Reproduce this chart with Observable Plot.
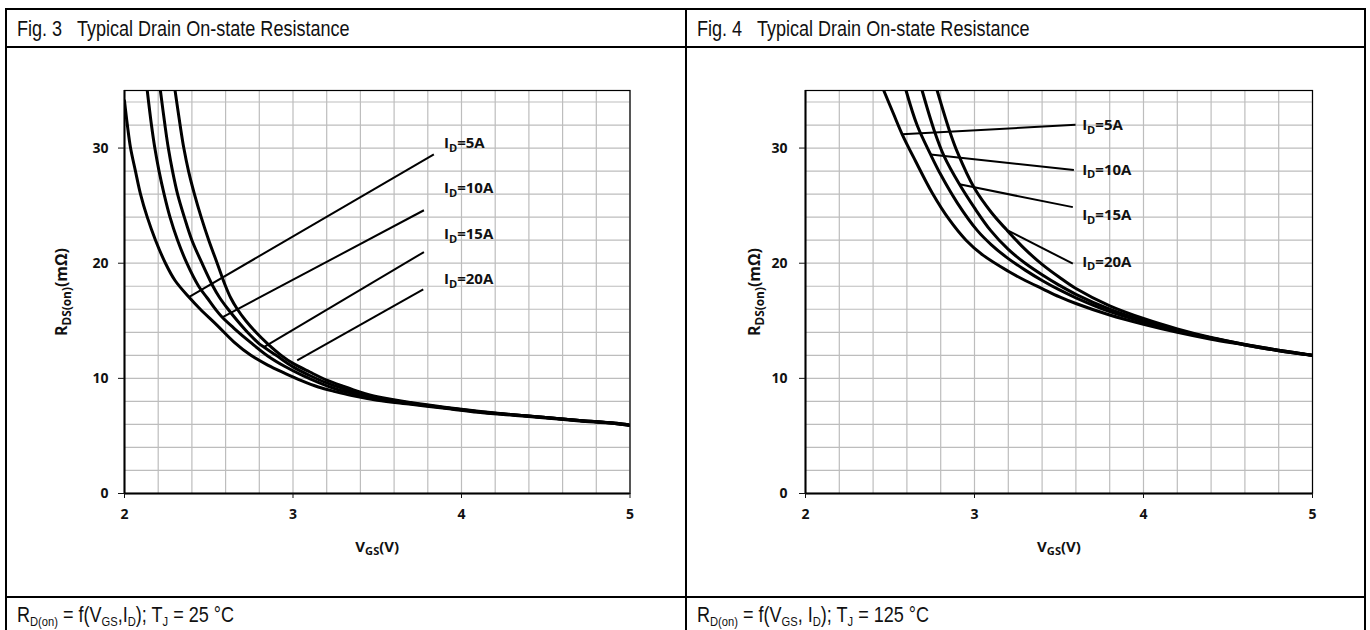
<!DOCTYPE html>
<html><head><meta charset="utf-8">
<script src="https://cdn.jsdelivr.net/npm/d3@7"></script>
<script src="https://cdn.jsdelivr.net/npm/@observablehq/plot@0.6"></script>
<style>
html,body{margin:0;padding:0;background:#fff;width:1370px;height:630px;overflow:hidden;}
#page{position:relative;width:1370px;height:630px;}
.ln{position:absolute;background:#000;}
.hd,.ft{position:absolute;font-family:"Liberation Sans",Arial,sans-serif;font-size:22px;color:#111;white-space:nowrap;line-height:1;transform:scaleX(0.82);transform-origin:0 50%;}
.ft sub{font-size:0.62em;vertical-align:-0.3em;line-height:0;}
.chart{position:absolute;}
</style></head>
<body><div id="page">
<div class="ln" style="left:5px;top:8px;width:1361px;height:2px"></div>
<div class="ln" style="left:5px;top:8px;width:2px;height:640px"></div>
<div class="ln" style="left:1364px;top:8px;width:2px;height:640px"></div>
<div class="ln" style="left:685px;top:8px;width:2px;height:640px"></div>
<div class="ln" style="left:5px;top:46px;width:1361px;height:2px"></div>
<div class="ln" style="left:5px;top:596px;width:1361px;height:2px"></div>
<div class="hd" style="left:17px;top:18px">Fig. 3<span style="display:inline-block;width:18px"></span>Typical Drain On-state Resistance</div>
<div class="hd" style="left:697px;top:18px">Fig. 4<span style="display:inline-block;width:18px"></span>Typical Drain On-state Resistance</div>
<div class="ft" style="left:17px;top:604px">R<sub>D(on)</sub> = f(V<sub>GS</sub>,I<sub>D</sub>); T<sub>J</sub> = 25 °C</div>
<div class="ft" style="left:697px;top:604px">R<sub>D(on)</sub> = f(V<sub>GS</sub>, I<sub>D</sub>); T<sub>J</sub> = 125 °C</div>
<div class="chart" id="c3" style="left:0px;top:48px"></div>
<div class="chart" id="c4" style="left:686px;top:48px"></div>
</div>
<script>
// ---------- data: Fig. 3 (TJ = 25 °C), points [VGS (V), RDS(on) (mΩ)] ----------
const fig3_5A  = [[2.0,34.1],[2.017,32],[2.036,30],[2.065,28],[2.095,26],[2.135,24],[2.184,22],[2.243,20],[2.30,18.5],[2.382,17.06],[2.45,16.0],[2.55,14.6],[2.65,13.15],[2.75,12.0],[2.85,11.15],[2.95,10.45],[3.05,9.8],[3.15,9.25],[3.25,8.85],[3.35,8.5],[3.5,8.1],[3.7,7.75],[3.9,7.4],[4.1,7.05],[4.3,6.8],[4.5,6.55],[4.7,6.3],[4.9,6.1],[5.0,5.9]];
const fig3_10A = [[2.135,35],[2.16,32],[2.18,30],[2.205,28],[2.235,26],[2.27,24],[2.315,22],[2.37,20],[2.44,18],[2.49,17],[2.54,16],[2.58,15.3],[2.65,14.35],[2.75,13.1],[2.85,11.95],[2.95,11.05],[3.05,10.3],[3.15,9.65],[3.25,9.1],[3.35,8.7],[3.5,8.2],[3.7,7.8],[3.9,7.45],[4.1,7.1],[4.3,6.85],[4.5,6.6],[4.7,6.35],[4.9,6.12],[5.0,5.95]];
const fig3_15A = [[2.213,35],[2.24,32],[2.26,30],[2.285,28],[2.315,26],[2.355,24],[2.40,22],[2.46,20],[2.525,18],[2.565,17],[2.615,16],[2.67,15],[2.73,14],[2.80,13],[2.827,12.72],[2.9,12.0],[3.0,11.0],[3.1,10.25],[3.2,9.6],[3.3,9.1],[3.4,8.65],[3.5,8.3],[3.7,7.85],[3.9,7.45],[4.1,7.1],[4.3,6.85],[4.5,6.6],[4.7,6.35],[4.9,6.12],[5.0,5.95]];
const fig3_20A = [[2.30,35],[2.33,32],[2.352,30],[2.38,28],[2.415,26],[2.455,24],[2.50,22],[2.55,20],[2.60,18],[2.63,17],[2.67,16],[2.72,15],[2.78,14],[2.85,13],[2.93,12],[3.0,11.3],[3.1,10.55],[3.2,9.85],[3.3,9.3],[3.4,8.8],[3.5,8.4],[3.7,7.9],[3.9,7.5],[4.1,7.15],[4.3,6.85],[4.5,6.6],[4.7,6.35],[4.9,6.1],[5.0,5.9]];

// ---------- data: Fig. 4 (TJ = 125 °C) ----------
const fig4_5A  = [[2.463,35],[2.52,33.0],[2.572,31.2],[2.65,28.9],[2.75,26.1],[2.85,23.8],[2.95,22.0],[3.05,20.7],[3.2,19.3],[3.3,18.5],[3.4,17.8],[3.5,17.1],[3.6,16.5],[3.8,15.5],[4.0,14.7],[4.2,14.0],[4.4,13.4],[4.6,12.9],[4.8,12.4],[5.0,12.0]];
const fig4_10A = [[2.595,35],[2.66,32.0],[2.74,29.45],[2.8,27.7],[2.9,25.2],[3.016,22.85],[3.1,21.6],[3.2,20.4],[3.3,19.4],[3.4,18.5],[3.5,17.7],[3.6,17.0],[3.8,15.8],[4.0,14.9],[4.2,14.1],[4.4,13.5],[4.6,12.9],[4.8,12.4],[5.0,12.0]];
const fig4_15A = [[2.69,35],[2.76,31.6],[2.82,29.3],[2.911,26.85],[3.0,24.8],[3.095,22.85],[3.2,21.2],[3.3,20.0],[3.4,19.0],[3.5,18.1],[3.6,17.3],[3.8,16.0],[4.0,15.0],[4.2,14.2],[4.4,13.5],[4.6,12.95],[4.8,12.45],[5.0,12.0]];
const fig4_20A = [[2.779,35],[2.85,31.6],[2.9,29.6],[3.0,26.5],[3.1,24.4],[3.19,22.9],[3.3,21.2],[3.4,19.9],[3.5,18.8],[3.6,17.8],[3.8,16.3],[4.0,15.2],[4.2,14.3],[4.4,13.55],[4.6,12.95],[4.8,12.45],[5.0,12.0]];

// ---------- labels and leader lines ----------
const seriesNames = ["ID=5A", "ID=10A", "ID=15A", "ID=20A"];
const fig3LeadV1 = [2.382, 2.58, 2.827, 3.025];
const fig3LeadR1 = [17.06, 15.3, 12.72, 11.57];
const fig3LeadV2 = [3.836, 3.777, 3.777, 3.773];
const fig3LeadR2 = [29.45, 24.6, 20.97, 17.73];
const fig3LabelV = [3.896, 3.896, 3.896, 3.896];
const fig3LabelR = [30.4, 26.5, 22.5, 18.57];

const fig4LeadV1 = [2.572, 2.74, 2.911, 3.19];
const fig4LeadR1 = [31.2, 29.45, 26.85, 22.9];
const fig4LeadV2 = [3.598, 3.588, 3.582, 3.582];
const fig4LeadR2 = [32.02, 28.1, 24.87, 19.96];
const fig4LabelV = [3.637, 3.637, 3.637, 3.637];
const fig4LabelR = [31.96, 28.1, 24.15, 20.1];

// ---------- axes ----------
const xTicks = [2, 3, 4, 5];
const yTicks = [0, 10, 20, 30];
const xGrid = [2.2, 2.4, 2.6, 2.8, 3.0, 3.2, 3.4, 3.6, 3.8, 4.0, 4.2, 4.4, 4.6, 4.8, 5.0];
const yGrid = [2, 4, 6, 8, 10, 12, 14, 16, 18, 20, 22, 24, 26, 28, 30, 32, 34];
const xLabel = "VGS(V)";
const yLabel = "RDS(on)(mΩ)";

const SVGNS = "http://www.w3.org/2000/svg";
function setParts(el, parts, shift) {
  el.textContent = "";
  let down = false;
  for (const [s, isSub] of parts) {
    const t = document.createElementNS(SVGNS, "tspan");
    t.textContent = s;
    if (isSub) {
      t.setAttribute("font-size", "0.74em");
      if (!down) { t.setAttribute("dy", String(shift)); down = true; }
    } else if (down) { t.setAttribute("dy", String(-shift)); down = false; }
    el.appendChild(t);
  }
}
function styleText(el, size) {
  el.style.fontSize = size + "px";
  el.style.fontWeight = "bold";
  el.style.fill = "#111";
}

const FONT = "'Open Sans', 'Noto Sans', sans-serif";
function chart(cfg) {
  const rows = cfg.series.flatMap((pts, i) => pts.map(([v, r]) => ({id: seriesNames[i], v, r})));
  const leads = seriesNames.map((n, i) => ({n, v1: cfg.lv1[i], r1: cfg.lr1[i], v2: cfg.lv2[i], r2: cfg.lr2[i], lv: cfg.labV[i], lr: cfg.labR[i]}));
  const svg = Plot.plot({
    width: cfg.width, height: 548,
    marginLeft: cfg.ml, marginRight: cfg.mr, marginTop: 42, marginBottom: 103,
    style: {background: "transparent", fontFamily: FONT, fontSize: "13px", fontWeight: "bold", color: "#111"},
    x: {domain: [2, 5]},
    y: {domain: [0, 35]},
    marks: [
      Plot.gridX(xGrid, {stroke: "#bdbdbd", strokeOpacity: 1, strokeWidth: 1.2}),
      Plot.gridY(yGrid, {stroke: "#bdbdbd", strokeOpacity: 1, strokeWidth: 1.2}),
      Plot.frame({stroke: "#000", strokeWidth: 1.2}),
      Plot.line(rows, {x: "v", y: "r", z: "id", curve: "catmull-rom", stroke: "#000", strokeWidth: 3, clip: true}),
      Plot.link(leads, {x1: "v1", y1: "r1", x2: "v2", y2: "r2", stroke: "#000", strokeWidth: 2}),
      Plot.text(leads, {x: "lv", y: "lr", text: "n", textAnchor: "start", lineAnchor: "middle", fontSize: 15, fontWeight: "bold", fontFamily: FONT, fill: "#111"}),
      Plot.ruleX([2], {stroke: "#000", strokeWidth: 2}),
      Plot.ruleY([0], {stroke: "#000", strokeWidth: 2}),
      Plot.axisX({ticks: xTicks, tickSize: 5, tickPadding: 11, tickFormat: d => String(d), label: xLabel, labelAnchor: "center", labelArrow: "none", labelOffset: 58}),
      Plot.axisY({ticks: yTicks, tickSize: 6, tickPadding: cfg.tp, tickFormat: d => String(d), label: yLabel, labelAnchor: "center", labelArrow: "none", labelOffset: cfg.lo})
    ]
  });
  svg.querySelectorAll('g[aria-label="x-axis tick label"] text, g[aria-label="y-axis tick label"] text').forEach(t => styleText(t, 14));
  svg.querySelectorAll('g[aria-label="text"] text').forEach(t => {
    const s = t.textContent;
    if (s.startsWith("ID=")) setParts(t, [["I", false], ["D", true], [s.slice(2), false]], 3.5);
  });
  const xl = svg.querySelector('g[aria-label="x-axis label"] text');
  if (xl) { styleText(xl, 15); setParts(xl, [["V", false], ["GS", true], ["(V)", false]], 3.5); }
  const yl = svg.querySelector('g[aria-label="y-axis label"] text');
  if (yl) { styleText(yl, 16); setParts(yl, [["R", false], ["DS(on)", true], ["(mΩ)", false]], 4); }
  return svg;
}

document.getElementById("c3").appendChild(chart({
  series: [fig3_5A, fig3_10A, fig3_15A, fig3_20A], width: 686, ml: 124, mr: 56.5, tp: 10, lo: 69,
  lv1: fig3LeadV1, lr1: fig3LeadR1, lv2: fig3LeadV2, lr2: fig3LeadR2, labV: fig3LabelV, labR: fig3LabelR
}));
document.getElementById("c4").appendChild(chart({
  series: [fig4_5A, fig4_10A, fig4_15A, fig4_20A], width: 680, ml: 119, mr: 54, tp: 12, lo: 57,
  lv1: fig4LeadV1, lr1: fig4LeadR1, lv2: fig4LeadV2, lr2: fig4LeadR2, labV: fig4LabelV, labR: fig4LabelR
}));
</script>
</body></html>
